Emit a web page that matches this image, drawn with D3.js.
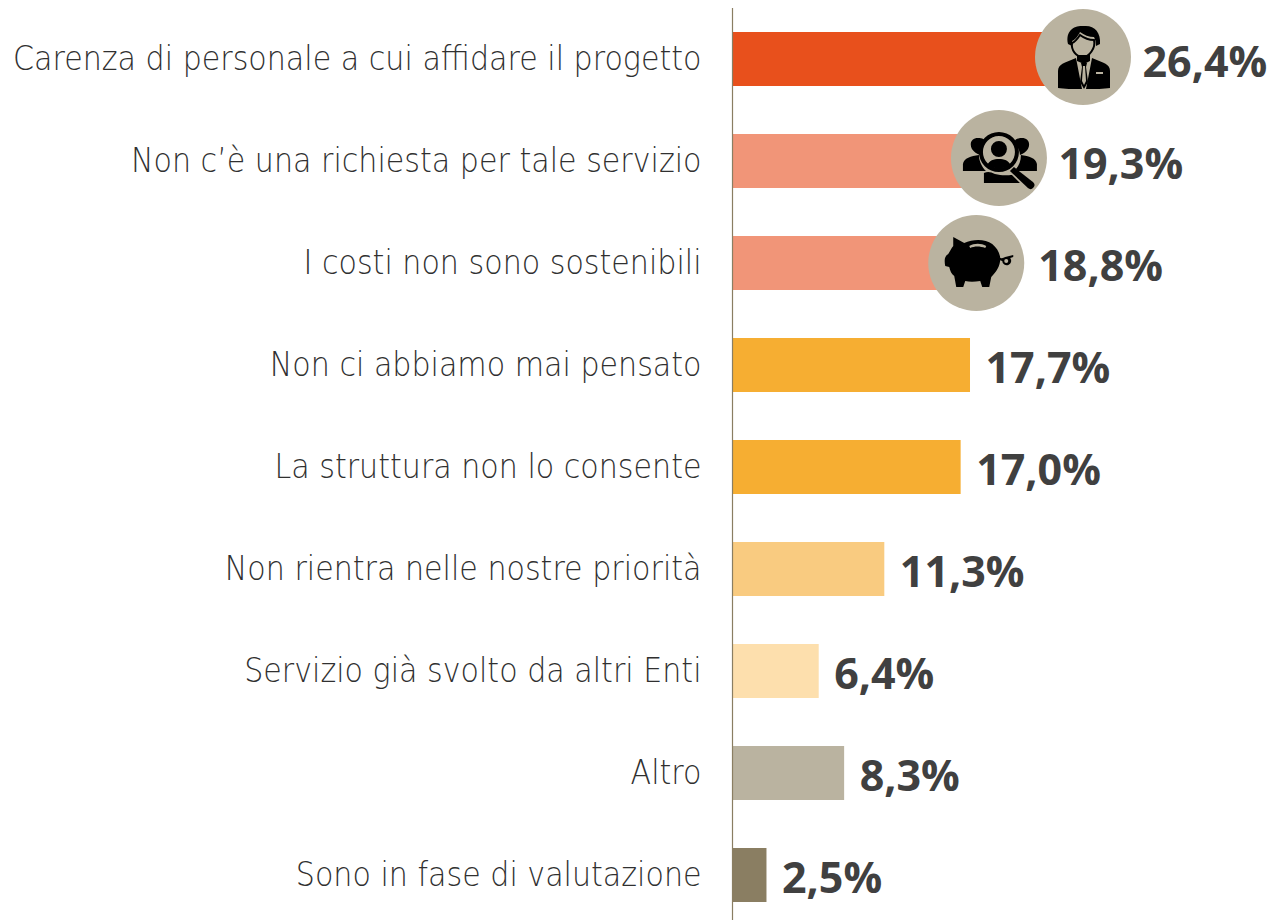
<!DOCTYPE html>
<html><head><meta charset="utf-8">
<script src="https://cdn.jsdelivr.net/npm/d3@7/dist/d3.min.js"></script>
<style>
html,body{margin:0;padding:0;background:#fff}
svg{display:block}
.cat text{font-family:"DejaVu Sans";font-weight:200;font-size:33px;fill:#303030}
.val{font-family:"Open Sans";font-weight:700;font-size:43px;fill:#404040}
</style></head><body><svg id="c" width="1271" height="920"></svg>
<script>
const categories=["Carenza di personale a cui affidare il progetto","Non c’è una richiesta per tale servizio","I costi non sono sostenibili","Non ci abbiamo mai pensato","La struttura non lo consente","Non rientra nelle nostre priorità","Servizio già svolto da altri Enti","Altro","Sono in fase di valutazione"];
const values=[26.4,19.3,18.8,17.7,17.0,11.3,6.4,8.3,2.5];
const colors=["#E8501C","#F19578","#F19578","#F6AE32","#F6AE32","#F9CB80","#FDDFAD","#BAB3A0","#8A7E62"];
const icons=["person","group","pig",null,null,null,null,null,null];
const circleShift=[-3.5,7.5,-8.5];
const labelShift=[56,67,53.5,15.5,15.5,15.5,15.5,15.5,15.5];

const svg=d3.select("#c");
const x=d3.scaleLinear().domain([0,26.4]).range([733,1086.5]);
const y=d3.scaleBand().domain(categories).range([8,926]).paddingInner(0.4706).paddingOuter(0.2353);
const fmt=v=>d3.format(".1f")(v).replace(".",",")+"%";

svg.selectAll("rect.bar").data(values).join("rect").attr("class","bar")
 .attr("x",x(0)).attr("y",(d,i)=>y(categories[i])).attr("width",d=>x(d)-x(0)).attr("height",y.bandwidth()).attr("fill",(d,i)=>colors[i]);

const ax=svg.append("g").attr("class","cat").attr("transform","translate(732.5,0)").call(d3.axisLeft(y).tickSize(0).tickPadding(0));
ax.select(".domain").attr("d","M0,8V920").attr("stroke","#8A7E62").attr("stroke-width",1.2).attr("fill","none");
const sx=0.913;
ax.selectAll(".tick text").attr("x",-31/sx).attr("transform",`scale(${sx},1)`);

svg.selectAll("text.val").data(values).join("text").attr("class","val")
 .attr("x",(d,i)=>x(d)+labelShift[i]).attr("y",(d,i)=>y(categories[i])+y.bandwidth()/2+17.5)
 .text(fmt);

const iconPaths={
 person:[
  ["M-25,31V14C-25,7 -19,6 -7,1L-1,32C-10,32 -19,32 -25,31ZM27,31V14C27,7 21,6 9,1L3,32C12,32 21,32 27,31Z","#000"],
  ["M-2,6H4L3,10L5,25L1,32L-3,25L-1,10Z","#000"],
  ["M0,9H2L3,24L1,28L-1,24Z","#BAB3A0"],
  ["M13,15H20V17H13Z","#BAB3A0"],
  ["M-11,-14C-8,-15 -5,-19 -3,-22C1,-19 6,-17 11,-17C13,-9 6,0 0,0C-7,0 -12,-7 -11,-14Z","#BAB3A0","#000"],
  ["M-6,-2H7V4L1,7L-6,4Z","#000"],
  ["M-15,-13C-18,-27 -8,-32 1,-31C11,-32 18,-25 17,-13L13,-11C13,-15 12,-18 11,-20C6,-20 1,-22 -3,-25C-5,-21 -8,-17 -11,-16L-11,-11Z","#000"]],
 group:[
  ["M-27,-9C-30,-15 -27,-20 -21,-20C-16,-20 -13,-18 -14,-15C-17,-11 -19,-7 -19,-3C-22,-4 -25,-6 -27,-9ZM29,-9C32,-15 29,-20 23,-20C18,-20 15,-18 16,-15C19,-11 21,-7 21,-3C24,-4 27,-6 29,-9Z","#000"],
  ["M-36,13V6C-35,0 -28,-2 -20,-3C-20,3 -17,9 -13,13ZM38,13V6C37,0 30,-2 22,-3C22,3 20,8 17,11L19,13Z","#000"],
  ["M-15,25V15C-11,13 -8,14 -4,16C3,18 10,17 13,17L21,25Z","#000"],
  ["M0,-26A20,20 0 1,1 0,14A20,20 0 1,1 0,-26ZM0,-22A16,16 0 1,0 0,10A16,16 0 1,0 0,-22Z","#000"],
  ["M0,-17A8,8 0 1,1 0,-1A8,8 0 1,1 0,-17ZM-12,8C-10,2 -5,1 0,1C5,1 10,2 12,8C7,11 -7,11 -12,8Z","#000"],
  ["M15,9L34,24A3.5,3.5 0 0,1 29,30L11,13Z","#000"]],
 pig:[
  ["M-23,-26L-12,-20C-3,-24 9,-24 16,-19C21,-15 24,-9 24,-4C24,3 20,9 15,14L13,24H6L4,18C-2,19 -7,19 -11,18L-13,24H-20L-22,13C-25,11 -26,8 -27,4L-31,3C-32,-2 -32,-7 -28,-9C-26,-12 -25,-15 -23,-17Z","#000"],
  ["M-7,-17C-2,-20 5,-20 10,-17L9,-15C4,-17 -2,-17 -6,-15Z","#BAB3A0"],
  ["M23,-6C25,-4 27,-5 29,-6L37,-8V-6L34,-5A4.5,4.5 0 1,1 26,-2C25,-2 24,-3 22,-4Z","#000"],
  ["M28,-2A2,2 0 1,0 30,-4A2,2 0 0,0 28,-2Z","#BAB3A0"]]
};
const ig=svg.selectAll("g.icon").data(values.slice(0,3)).join("g").attr("class","icon")
 .attr("transform",(d,i)=>`translate(${x(d)+circleShift[i]},${y(categories[i])+y.bandwidth()/2-(i==0?2:i==1?3:0)})`);
ig.append("circle").attr("r",48).attr("fill","#BAB3A0");
ig.each(function(d,i){
 d3.select(this).selectAll("path").data(iconPaths[icons[i]]).join("path").attr("d",p=>p[0]).attr("fill",p=>p[1]).attr("stroke",p=>p[2]||"none").attr("stroke-width",2);
});
</script></body></html>
